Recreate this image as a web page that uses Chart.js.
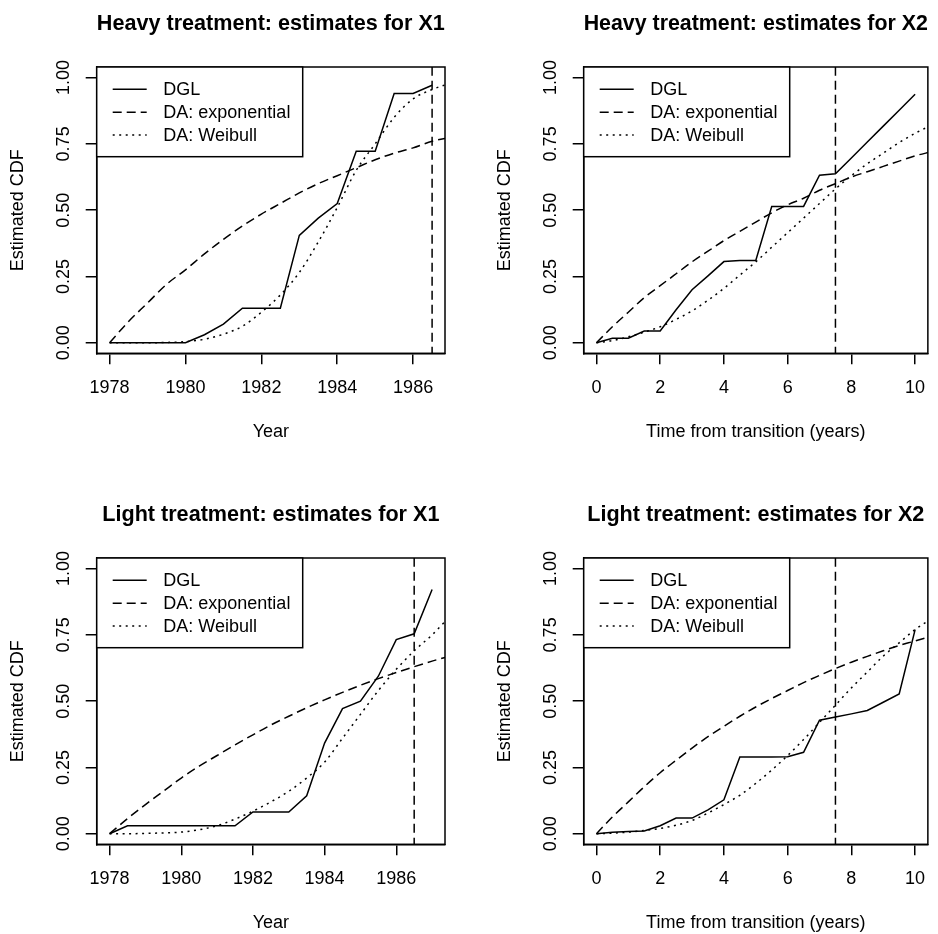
<!DOCTYPE html>
<html>
<head>
<meta charset="utf-8">
<title>Estimated CDF</title>
<script src="https://cdn.jsdelivr.net/npm/chart.js@4.4.1/dist/chart.umd.min.js"></script>
<style>
  html, body { margin: 0; padding: 0; background: #fff; }
  #wrap { position: relative; width: 938px; height: 934px; }
  canvas { position: absolute; }
</style>
</head>
<body>
<div id="wrap">
  <canvas id="heavyX1" width="487" height="443" style="left:0;top:0"></canvas>
  <canvas id="heavyX2" width="451" height="443" style="left:487px;top:0"></canvas>
  <canvas id="lightX1" width="487" height="443" style="left:0;top:491px"></canvas>
  <canvas id="lightX2" width="451" height="443" style="left:487px;top:491px"></canvas>
</div>
<script>
// x grids (half-year steps)
const yearGrid = [1978, 1978.5, 1979, 1979.5, 1980, 1980.5, 1981, 1981.5, 1982, 1982.5,
                  1983, 1983.5, 1984, 1984.5, 1985, 1985.5, 1986, 1986.5, 1987, 1987.5];
const timeGrid = [0, 0.5, 1, 1.5, 2, 2.5, 3, 3.5, 4, 4.5, 5, 5.5, 6, 6.5, 7, 7.5, 8, 8.5, 9, 9.5, 10, 10.5];

// heavy treatment, X1
const heavyX1Dgl  = [0, 0, 0, 0, 0, 0.03, 0.07, 0.13, 0.13, 0.13, 0.405, 0.47, 0.525, 0.722, 0.722, 0.94, 0.94, 0.971];
const heavyX1Exp  = [0, 0.08, 0.15, 0.22, 0.275, 0.335, 0.39, 0.44, 0.485, 0.525, 0.565, 0.6, 0.63, 0.66, 0.69, 0.715, 0.735, 0.76, 0.775];
const heavyX1Weib = [0, 0, 0, 0.001, 0.004, 0.013, 0.032, 0.062, 0.115, 0.18, 0.265, 0.38, 0.51, 0.65, 0.75, 0.85, 0.92, 0.955, 0.98];

// heavy treatment, X2
const heavyX2Dgl  = [0, 0.017, 0.017, 0.044, 0.044, 0.124, 0.2, 0.252, 0.306, 0.31, 0.31, 0.514, 0.514, 0.514, 0.632, 0.637, 0.697, 0.757, 0.817, 0.877, 0.937];
const heavyX2Exp  = [0, 0.06, 0.115, 0.17, 0.215, 0.26, 0.305, 0.345, 0.385, 0.42, 0.455, 0.49, 0.52, 0.545, 0.575, 0.6, 0.625, 0.645, 0.665, 0.685, 0.705, 0.72];
const heavyX2Weib = [0, 0.008, 0.022, 0.04, 0.06, 0.088, 0.12, 0.16, 0.205, 0.255, 0.305, 0.36, 0.415, 0.47, 0.525, 0.58, 0.63, 0.675, 0.715, 0.755, 0.79, 0.82];

// light treatment, X1
const lightX1Dgl  = [0, 0.03, 0.03, 0.03, 0.03, 0.03, 0.03, 0.03, 0.082, 0.082, 0.082, 0.143, 0.342, 0.472, 0.5, 0.594, 0.732, 0.754, 0.921];
const lightX1Exp  = [0, 0.057, 0.11, 0.16, 0.21, 0.255, 0.295, 0.335, 0.373, 0.41, 0.443, 0.475, 0.505, 0.533, 0.56, 0.585, 0.608, 0.63, 0.651, 0.67];
const lightX1Weib = [0, 0, 0.001, 0.003, 0.006, 0.015, 0.03, 0.055, 0.085, 0.12, 0.16, 0.21, 0.27, 0.36, 0.45, 0.54, 0.62, 0.69, 0.75, 0.82];

// light treatment, X2
const lightX2Dgl  = [0, 0.005, 0.008, 0.01, 0.03, 0.059, 0.059, 0.09, 0.128, 0.289, 0.289, 0.289, 0.29, 0.307, 0.428, 0.44, 0.452, 0.465, 0.496, 0.527, 0.77];
const lightX2Exp  = [0, 0.063, 0.12, 0.177, 0.23, 0.277, 0.323, 0.366, 0.405, 0.443, 0.478, 0.51, 0.54, 0.57, 0.597, 0.623, 0.647, 0.669, 0.69, 0.71, 0.727, 0.745];
const lightX2Weib = [0, 0.002, 0.006, 0.012, 0.02, 0.032, 0.05, 0.078, 0.11, 0.145, 0.19, 0.24, 0.295, 0.355, 0.42, 0.485, 0.55, 0.61, 0.67, 0.72, 0.77, 0.81];

// vertical reference lines
const heavyX1Cut = 1986.5;
const heavyX2Cut = 7.5;
const lightX1Cut = 1986.5;
const lightX2Cut = 7.5;

// ticks and axis ranges
const yearTicks = [1978, 1980, 1982, 1984, 1986];
const timeTicks = [0, 2, 4, 6, 8, 10];
const cdfTicks = [0, 0.25, 0.5, 0.75, 1];
const heavyYearRange = [1977.66, 1986.84];
const lightYearRange = [1977.64, 1987.36];
const timeRange = [-0.4, 10.4];
const cdfRange = [-0.04, 1.04];

const seriesLabels = ['DGL', 'DA: exponential', 'DA: Weibull'];

const FONT = '"Liberation Sans", Arial, Helvetica, sans-serif';
const DASH = [9, 5];
const DOT = [2, 4.5];

function pts(grid, vals) {
    return vals.map((v, i) => ({ x: grid[i], y: v }));
}

const frameAndLegend = {
    id: 'frameAndLegend',
    afterDatasetsDraw(chart) {
        const { ctx, chartArea: a } = chart;
        ctx.save();
        ctx.strokeStyle = '#000';
        ctx.lineWidth = 1.5;
        ctx.setLineDash([]);
        ctx.strokeRect(a.left, a.top, a.right - a.left, a.bottom - a.top);

        // legend box, top-left inside the plot
        const w = 206, h = 89.7;
        ctx.fillStyle = '#fff';
        ctx.fillRect(a.left, a.top, w, h);
        ctx.strokeRect(a.left, a.top, w, h);
        const rows = [22.3, 45.3, 68];
        chart.data.datasets.slice(0, 3).forEach((ds, i) => {
            const y = a.top + rows[i];
            ctx.beginPath();
            ctx.setLineDash(ds.borderDash || []);
            ctx.lineWidth = ds.borderWidth;
            ctx.moveTo(a.left + 16, y);
            ctx.lineTo(a.left + 50, y);
            ctx.stroke();
            ctx.setLineDash([]);
            ctx.fillStyle = '#000';
            ctx.font = '18px ' + FONT;
            ctx.textAlign = 'left';
            ctx.textBaseline = 'middle';
            ctx.fillText(ds.label, a.left + 66.6, y + 1);
        });
        ctx.restore();
    }
};

function makePanel(id, title, xTitle, grid, dgl, expo, weib, cut, xRange, xTicks, rightPad) {
    const axisGrid = { drawOnChartArea: false, drawTicks: true, tickLength: 11, color: '#000', lineWidth: 1.5 };
    const axisBorder = { display: true, color: '#000', width: 1.5 };
    new Chart(document.getElementById(id), {
        type: 'line',
        data: {
            datasets: [
                { label: seriesLabels[0], data: pts(grid, dgl), borderColor: '#000', borderWidth: 1.5, pointRadius: 0, tension: 0 },
                { label: seriesLabels[1], data: pts(grid, expo), borderColor: '#000', borderWidth: 1.5, borderDash: DASH, pointRadius: 0, cubicInterpolationMode: 'monotone' },
                { label: seriesLabels[2], data: pts(grid, weib), borderColor: '#000', borderWidth: 1.5, borderDash: DOT, pointRadius: 0, cubicInterpolationMode: 'monotone' },
                { label: 'cut', data: [{ x: cut, y: -1 }, { x: cut, y: 2 }], borderColor: '#000', borderWidth: 1.5, borderDash: DASH, pointRadius: 0 }
            ]
        },
        options: {
            responsive: false,
            animation: false,
            devicePixelRatio: 1,
            layout: { padding: { left: 0, right: rightPad, top: 0, bottom: 0 } },
            plugins: {
                legend: { display: false },
                tooltip: { enabled: false },
                title: {
                    display: true, text: title, color: '#000', fullSize: false,
                    font: { family: FONT, size: 21.6, weight: 'bold' },
                    padding: { top: 11.5, bottom: 29.58 }
                }
            },
            scales: {
                x: {
                    type: 'linear', min: xRange[0], max: xRange[1],
                    afterBuildTicks: s => { s.ticks = xTicks.map(v => ({ value: v })); },
                    afterFit: s => { s.height = 89.7; },
                    grid: axisGrid, border: axisBorder,
                    ticks: { autoSkip: false, maxRotation: 0, padding: 12.5, color: '#000',
                             font: { family: FONT, size: 18 }, callback: v => String(v) },
                    title: { display: true, text: xTitle, color: '#000',
                             font: { family: FONT, size: 18 }, padding: { top: 0, bottom: 0.5 } }
                },
                y: {
                    type: 'linear', min: cdfRange[0], max: cdfRange[1],
                    afterBuildTicks: s => { s.ticks = cdfTicks.map(v => ({ value: v })); },
                    afterFit: s => { s.width = 96.7; },
                    grid: axisGrid, border: axisBorder,
                    ticks: { autoSkip: false, minRotation: 90, maxRotation: 90, crossAlign: 'center',
                             padding: 4.4, color: '#000', font: { family: FONT, size: 18 },
                             callback: v => v.toFixed(2) },
                    title: { display: true, text: 'Estimated CDF', color: '#000',
                             font: { family: FONT, size: 18 }, padding: { top: 7.5, bottom: 0 } }
                }
            }
        },
        plugins: [frameAndLegend]
    });
}

makePanel('heavyX1', 'Heavy treatment: estimates for X1', 'Year', yearGrid,
          heavyX1Dgl, heavyX1Exp, heavyX1Weib, heavyX1Cut, heavyYearRange, yearTicks, 42);
makePanel('heavyX2', 'Heavy treatment: estimates for X2', 'Time from transition (years)', timeGrid,
          heavyX2Dgl, heavyX2Exp, heavyX2Weib, heavyX2Cut, timeRange, timeTicks, 6.3);
makePanel('lightX1', 'Light treatment: estimates for X1', 'Year', yearGrid,
          lightX1Dgl, lightX1Exp, lightX1Weib, lightX1Cut, lightYearRange, yearTicks, 42);
makePanel('lightX2', 'Light treatment: estimates for X2', 'Time from transition (years)', timeGrid,
          lightX2Dgl, lightX2Exp, lightX2Weib, lightX2Cut, timeRange, timeTicks, 6.3);
</script>
</body>
</html>
